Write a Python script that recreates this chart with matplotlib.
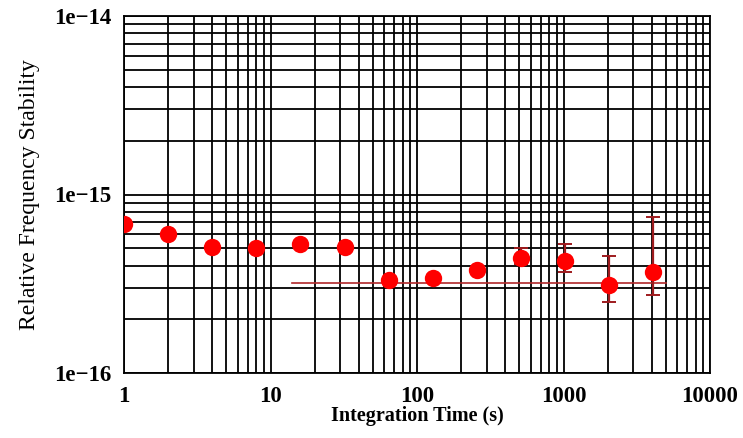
import matplotlib
matplotlib.use("Agg")
import matplotlib.pyplot as plt
from matplotlib.ticker import LogLocator, NullFormatter, FixedLocator, FixedFormatter

# Veriler
tau = [1, 2, 4, 8, 16, 32, 64, 128, 256, 512, 1024, 2048, 4096]
sigma = [6.8e-16, 6.0e-16, 5.1e-16, 5.0e-16, 5.3e-16, 5.05e-16, 3.3e-16,
         3.4e-16, 3.8e-16, 4.38e-16, 4.23e-16, 3.1e-16, 3.66e-16]
err_low = [0, 0, 0, 0, 0, 0, 0, 0, 0, 0.3e-16, 0.56e-16, 0.59e-16, 0.91e-16]
err_high = [0, 0, 0, 0, 0, 0, 0, 0, 0, 0.61e-16, 1.02e-16, 1.4e-16, 3.8e-16]
floor_x = [14, 5000]
floor_y = [3.2e-16, 3.2e-16]

yticks = [1e-16, 1e-15, 1e-14]
ytick_labels = ["1e\u221216", "1e\u221215", "1e\u221214"]
xticks = [1, 10, 100, 1000, 10000]
xtick_labels = ["1", "10", "100", "1000", "10000"]

fig = plt.figure(figsize=(7.43, 4.38), dpi=100)
ax = fig.add_axes([124 / 743, 65 / 438, 586 / 743, 357 / 438])

ax.set_xscale("log")
ax.set_yscale("log")
ax.set_xlim(1, 10000)
ax.set_ylim(1e-16, 1e-14)

# Grid
ax.grid(True, which="both", color="black", linewidth=1.3)
ax.set_axisbelow(True)

# Veri
ax.plot(floor_x, floor_y, color="#b0282a", linewidth=1.2, zorder=3)
ax.errorbar(tau, sigma, yerr=[err_low, err_high], fmt="none",
            ecolor="#9e1b1e", elinewidth=1.6, capsize=5, capthick=1.4, zorder=4)
ax.plot(tau, sigma, "o", color="#ff0000", markersize=12.5, markeredgewidth=0, zorder=5)

ax.xaxis.set_major_locator(FixedLocator(xticks))
ax.xaxis.set_major_formatter(FixedFormatter(xtick_labels))
ax.xaxis.set_minor_locator(LogLocator(base=10, subs=range(2, 10)))
ax.xaxis.set_minor_formatter(NullFormatter())
ax.yaxis.set_major_locator(FixedLocator(yticks))
ax.yaxis.set_major_formatter(FixedFormatter(ytick_labels))
ax.yaxis.set_minor_locator(LogLocator(base=10, subs=range(2, 10)))
ax.yaxis.set_minor_formatter(NullFormatter())

ax.tick_params(which="both", direction="in", length=0)
ax.tick_params(axis="x", pad=9)
ax.tick_params(axis="y", pad=9)
for lbl in ax.get_xticklabels() + ax.get_yticklabels():
    lbl.set_fontfamily("Liberation Serif")
    lbl.set_fontweight("bold")
    lbl.set_fontsize(16.5)

for s in ax.spines.values():
    s.set_linewidth(1.3)

ax.set_xlabel("Integration Time (s)", family="Liberation Serif",
              fontweight="bold", fontsize=14.5, labelpad=0)
ax.set_ylabel("Relative Frequency Stability", family="Liberation Serif",
              fontsize=17, labelpad=10)

fig.savefig("out.png", dpi=100)
